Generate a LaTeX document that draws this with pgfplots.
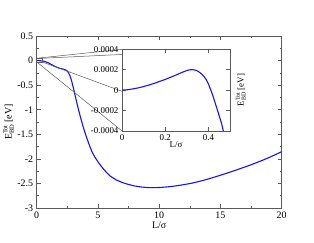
\documentclass[border=0pt]{standalone}
\usepackage{pgfplots}
\pgfplotsset{compat=1.18}
\usepackage{fontspec}
\setmainfont{Liberation Serif}
\definecolor{axgray}{gray}{0.35}
\definecolor{curveblue}{RGB}{20,20,240}
\begin{document}
\begin{tikzpicture}
\path[use as bounding box] (0,0) rectangle (314bp,243bp);
\begin{axis}[
  at={(36.7bp,35bp)}, anchor=south west,
  scale only axis, width=245bp, height=172bp,
  xmin=0, xmax=20, ymin=-3, ymax=0.5,
  xtick={0,5,10,15,20}, minor x tick num=1,
  ytick={-3,-2.5,-2,-1.5,-1,-0.5,0,0.5}, minor y tick num=1,
  tick align=inside,
  major tick length=4bp, minor tick length=2.2bp,
  axis line style={axgray, line width=0.6pt},
  every tick/.style={axgray, line width=0.5pt},
  tick label style={font=\fontsize{10}{11}\selectfont},
  /pgf/number format/assume math mode=true,
  xlabel={L/σ},
  xlabel style={at={(axis description cs:0.5,-0.1)}, anchor=center, font=\fontsize{10}{11}\selectfont},
  ylabel={E\makebox[0pt][l]{\raisebox{0.9ex}{\fontsize{6.5}{7}\selectfont Tot}}\raisebox{-0.5ex}{\fontsize{6.5}{7}\selectfont BD} [eV]},
  ylabel style={at={(axis description cs:-0.115,0.5)}, anchor=center, font=\fontsize{10}{11}\selectfont},
]
\addplot[curveblue, line width=1.1pt, line join=round] coordinates {
(0,0) (0.3,-0.003) (0.6,-0.015) (0.9,-0.04) (1.2,-0.08) (1.5,-0.12) (1.8,-0.152) (2.0,-0.165) (2.2,-0.175) (2.4,-0.195) (2.5,-0.215) (2.6,-0.25) (2.7,-0.3) (2.8,-0.37) (2.9,-0.46) (3.0,-0.56) (3.1,-0.67) (3.2,-0.78) (3.3,-0.885) (3.4,-0.985) (3.55,-1.13) (3.7,-1.265) (3.85,-1.395) (4.0,-1.51) (4.25,-1.69) (4.5,-1.85) (4.75,-1.965) (5,-2.06) (5.25,-2.145) (5.5,-2.22) (5.75,-2.29) (6,-2.35) (6.5,-2.43) (7,-2.483) (7.5,-2.522) (8,-2.552) (8.5,-2.572) (9,-2.583) (9.5,-2.586) (10,-2.583) (10.5,-2.574) (11,-2.562) (11.5,-2.545) (12,-2.525) (12.5,-2.503) (13,-2.476) (13.5,-2.445) (14,-2.41) (14.5,-2.372) (15,-2.333) (15.5,-2.293) (16,-2.252) (16.5,-2.209) (17,-2.165) (17.5,-2.12) (18,-2.072) (18.5,-2.022) (19,-1.97) (19.5,-1.912) (20,-1.853)
};
\coordinate (bTL) at (axis cs:0,0.047);
\coordinate (bTR) at (axis cs:0.43,0.047);
\coordinate (bBL) at (axis cs:0,-0.027);
\coordinate (bBR) at (axis cs:0.43,-0.027);
\end{axis}
\draw[axgray, line width=0.5pt] (bTL) rectangle (bBR);
\draw[axgray, line width=0.5pt] (bTL) -- (122bp,193.7bp);
\draw[axgray, line width=0.5pt] (bTR) -- (230bp,193.7bp);
\draw[axgray, line width=0.5pt] (bBL) -- (122bp,112bp);
\draw[axgray, line width=0.5pt] (bBR) -- (230bp,112bp);
\begin{axis}[
  at={(122bp,112bp)}, anchor=south west,
  scale only axis, width=108bp, height=81.7bp,
  axis background/.style={fill=white},
  xmin=0, xmax=0.5, ymin=-0.0004, ymax=0.0004,
  xtick={0,0.2,0.4},
  ytick={-0.0004,-0.0002,0,0.0002,0.0004},
  scaled y ticks=false, scaled x ticks=false,
  tick align=inside,
  major tick length=3.5bp,
  axis line style={axgray, line width=0.6pt},
  every tick/.style={axgray, line width=0.5pt},
  tick label style={font=\fontsize{9}{10}\selectfont},
  /pgf/number format/.cd, fixed, precision=4, assume math mode=true, /pgfplots/.cd,
  xlabel={L/σ},
  xlabel style={at={(axis description cs:0.5,-0.17)}, anchor=center, font=\fontsize{9}{10}\selectfont},
  ylabel={E\makebox[0pt][l]{\raisebox{0.9ex}{\fontsize{6}{7}\selectfont Tot}}\raisebox{-0.5ex}{\fontsize{6}{7}\selectfont BD} [eV]},
  ylabel style={at={(axis description cs:1.1,0.5)}, anchor=center, font=\fontsize{9}{10}\selectfont},
]
\addplot[curveblue, line width=1.1pt, line join=round] coordinates {
(0,0) (0.025,0.000004) (0.05,0.000012) (0.075,0.000022) (0.1,0.000035) (0.125,0.00005) (0.15,0.000067) (0.175,0.000086) (0.2,0.000105) (0.225,0.000126) (0.25,0.000148) (0.275,0.000171) (0.29,0.000184) (0.3,0.000192) (0.313,0.000199) (0.325,0.000201) (0.34,0.000196) (0.35,0.000187) (0.36,0.000173) (0.37,0.000155) (0.38,0.000132) (0.39,0.000103) (0.4,0.00006) (0.41,0.000008) (0.42,-0.00005) (0.435,-0.00015) (0.45,-0.00025) (0.46,-0.00032) (0.467,-0.00038) (0.475,-0.00046)
};
\end{axis}
\end{tikzpicture}
\end{document}
